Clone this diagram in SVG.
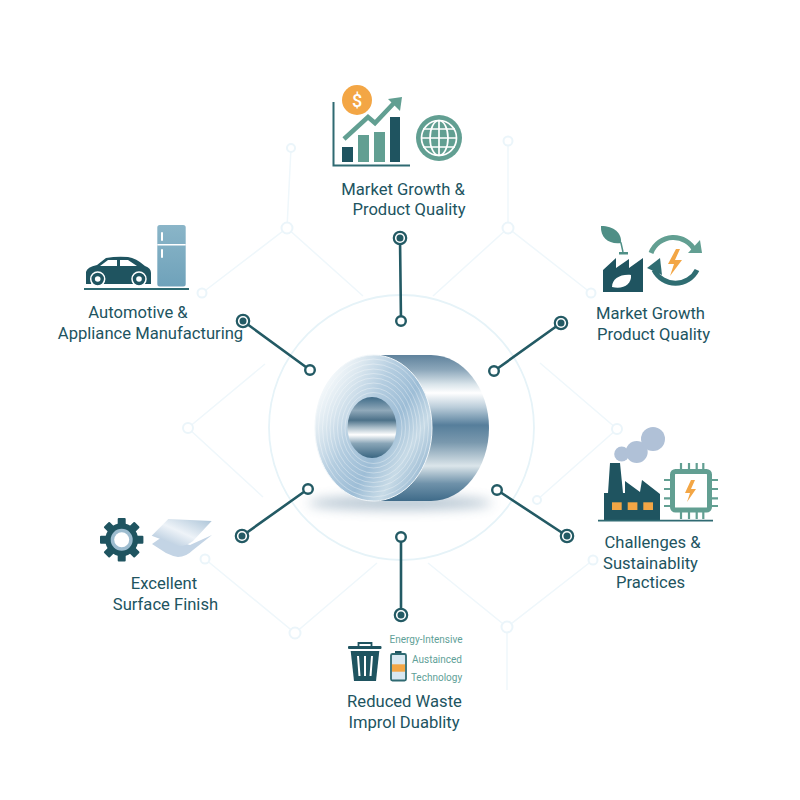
<svg xmlns="http://www.w3.org/2000/svg" width="800" height="800" viewBox="0 0 800 800">
<style>
text{font-family:Roboto,"Liberation Sans",sans-serif;fill:#21545f;font-size:16.6px;text-anchor:middle}
.sm{font-size:10px;fill:#5f9f98}
.faint{fill:none;stroke:#eff7fb;stroke-width:1.5}
.fn{fill:#fff;stroke:#ebf5fa;stroke-width:2}
.conn{stroke:#235a64;stroke-width:2.6;fill:none}
.in{fill:#fff;stroke:#235a64;stroke-width:2.4}
.outr{fill:#fff;stroke:#235a64;stroke-width:2.2}
.dot{fill:#235a64}
.dark{fill:#1f5460}
.teal{fill:#629f92}
.org{fill:#f3a645}
.wl{fill:none;stroke:#fff;stroke-width:1.7}
</style>
<defs>
<linearGradient id="side" x1="0" y1="0" x2="0" y2="1">
<stop offset="0" stop-color="#5f829c"/><stop offset=".1" stop-color="#8ba6ba"/><stop offset=".2" stop-color="#d9e4ea"/><stop offset=".26" stop-color="#fff"/><stop offset=".36" stop-color="#b9ccd9"/><stop offset=".48" stop-color="#567e9b"/><stop offset=".6" stop-color="#7a99ae"/><stop offset=".76" stop-color="#dbe5ea"/><stop offset=".88" stop-color="#6f92aa"/><stop offset="1" stop-color="#3f6b89"/>
</linearGradient>
<linearGradient id="face" x1=".02" y1=".28" x2=".85" y2=".9">
<stop offset="0" stop-color="#f5f9fb"/><stop offset=".16" stop-color="#dce8f0"/><stop offset=".38" stop-color="#b4cde0"/><stop offset=".62" stop-color="#9dbdd6"/><stop offset=".82" stop-color="#c8dbe7"/><stop offset="1" stop-color="#9dbcd4"/>
</linearGradient>
<linearGradient id="hole" x1="0" y1="0" x2="0" y2="1">
<stop offset="0" stop-color="#3f6b88"/><stop offset=".22" stop-color="#90a9ba"/><stop offset=".38" stop-color="#4c7189"/><stop offset=".5" stop-color="#a9bdc9"/><stop offset=".62" stop-color="#fff"/><stop offset=".76" stop-color="#8aa6b8"/><stop offset="1" stop-color="#3a6682"/>
</linearGradient>
<linearGradient id="sheet" x1="0" y1="1" x2="1" y2="0">
<stop offset="0" stop-color="#a3bdd5"/><stop offset=".5" stop-color="#eef3f8"/><stop offset="1" stop-color="#aac3d7"/>
</linearGradient>
<linearGradient id="fr" x1="0" y1="0" x2="0" y2="1">
<stop offset="0" stop-color="#8ab5c8"/><stop offset="1" stop-color="#6fa2ba"/>
</linearGradient>
<filter id="blur" x="-30%" y="-200%" width="160%" height="500%"><feGaussianBlur stdDeviation="6"/></filter>
</defs>
<rect width="800" height="800" fill="#fff"/>
<g id="background">
<circle cx="401.5" cy="427.5" r="132.5" fill="none" stroke="#e6f3f8" stroke-width="1.8"/>
<path class="faint" d="M291 148L287 228M202 293L287 228L363 296M508 141V228M433 296L508 228L591 293M540 363L617 429L537 500M265 364L188 428L263 497M205 559L295 633L377 563M428 563L507 627L593 560M507 627V690"/>
<circle class="fn" cx="291" cy="148" r="4"/><circle class="fn" cx="287" cy="228" r="5.5"/><circle class="fn" cx="202" cy="293" r="4.5"/><circle class="fn" cx="508" cy="141" r="4.5"/><circle class="fn" cx="508" cy="228" r="5.5"/><circle class="fn" cx="591" cy="293" r="4.5"/><circle class="fn" cx="188" cy="428" r="5"/><circle class="fn" cx="617" cy="429" r="5"/><circle class="fn" cx="205" cy="559" r="4.5"/><circle class="fn" cx="295" cy="633" r="5.5"/><circle class="fn" cx="593" cy="560" r="4.5"/><circle class="fn" cx="507" cy="627" r="5.5"/><circle class="fn" cx="537" cy="500" r="4"/>
</g>
<g id="coil">
<ellipse cx="400" cy="503" rx="92" ry="7" fill="#5f819c" opacity=".45" filter="url(#blur)"/>
<path d="M373 355H431C463 355 489 388 489 428C489 468 463 501 431 501H373Z" fill="url(#side)"/>
<ellipse cx="373.5" cy="428" rx="58.5" ry="73" fill="url(#face)" stroke="#f2f7fa" stroke-width="1"/>
<g fill="none" stroke="#fff" stroke-opacity=".42" stroke-width=".8">
<ellipse cx="373.5" cy="428" rx="55" ry="69"/><ellipse cx="373.5" cy="428" rx="51" ry="64"/><ellipse cx="373.5" cy="428" rx="47" ry="59"/><ellipse cx="373.5" cy="428" rx="43.500" ry="54.500"/><ellipse cx="373.5" cy="428" rx="40" ry="50"/><ellipse cx="373.5" cy="428" rx="36" ry="45"/><ellipse cx="373.5" cy="428" rx="32" ry="40"/><ellipse cx="373.5" cy="428" rx="28.500" ry="35.500"/>
</g>
<ellipse cx="372" cy="427.500" rx="24.500" ry="30.500" fill="url(#hole)"/>
</g>
<g id="connectors">
<path class="conn" d="M400 238L401 321M561 323L494 371M567 536L497 490M401 615V537M242 536L308 489M243 321L310 370"/>
<g>
<circle class="outr" cx="400" cy="238" r="6.200"/><circle class="dot" cx="400" cy="238" r="3.500"/>
<circle class="outr" cx="561" cy="323" r="6.200"/><circle class="dot" cx="561" cy="323" r="3.500"/>
<circle class="outr" cx="567" cy="536" r="6.200"/><circle class="dot" cx="567" cy="536" r="3.500"/>
<circle class="outr" cx="401" cy="615" r="6.200"/><circle class="dot" cx="401" cy="615" r="3.500"/>
<circle class="outr" cx="242" cy="536" r="6.200"/><circle class="dot" cx="242" cy="536" r="3.500"/>
<circle class="outr" cx="243" cy="321" r="6.200"/><circle class="dot" cx="243" cy="321" r="3.500"/>
<circle class="in" cx="401" cy="321" r="4.800"/><circle class="in" cx="494" cy="371" r="4.800"/><circle class="in" cx="497" cy="490" r="4.800"/><circle class="in" cx="401" cy="537" r="4.800"/><circle class="in" cx="308" cy="489" r="4.800"/><circle class="in" cx="310" cy="370" r="4.800"/>
</g>
</g>
<g id="node-market-growth">
<path d="M333.500 102V165.500H410" fill="none" stroke="#2f6a72" stroke-width="2"/>
<rect class="dark" x="342" y="147" width="11" height="15"/>
<rect class="teal" x="358" y="135" width="11" height="27"/>
<rect class="teal" x="374" y="132" width="11" height="30"/>
<rect class="dark" x="390" y="117" width="10" height="45"/>
<path d="M344 139L368 117L375 123L394 103" fill="none" stroke="#629f92" stroke-width="4.600"/>
<path d="M388 99L402 97L400 111Z" class="teal"/>
<circle class="org" cx="357" cy="100" r="15"/>
<text x="357" y="106.500" style="fill:#fff;font-size:18px;font-weight:500">$</text>
<circle class="teal" cx="439" cy="138" r="23"/>
<g class="wl"><circle cx="439" cy="138" r="17.500"/><ellipse cx="439" cy="138" rx="9" ry="17.500"/><path d="M439 120V156M421 138H457M423 129H455M423 147H455"/></g>
<text x="403" y="195">Market Growth &amp;</text>
<text x="409" y="215">Product Quality</text>
</g>
<g id="node-market-growth-right">
<path class="dark" d="M603 292V270L616 258V268L629 259V268L643 258V292Z"/>
<path d="M612 287C612 279 620 274 631 275C632 284 623 290 612 287Z" fill="#fff"/>
<path d="M601 226C614 226 622 233 621 243C610 245 600 238 601 226Z" fill="#4f8f86"/>
<path d="M609 233L621 243L623 252" fill="none" stroke="#4f8f86" stroke-width="1.500"/>
<rect x="619" y="252" width="9" height="2.500" fill="#4f8f86"/>
<path d="M651 253A24 24 0 0 1 695 251" fill="none" stroke="#629f92" stroke-width="5"/>
<path d="M688 253L702 253L700 240Z" class="teal"/>
<path d="M697 270A24 24 0 0 1 654 270" fill="none" stroke="#2f6d72" stroke-width="5"/>
<path d="M647 268L660 258L662 275Z" fill="#2f6d72"/>
<path class="org" d="M676 249L668 264H674L670 276L682 260H675L680 249Z"/>
<text x="650.500" y="319">Market Growth</text>
<text x="653.500" y="340">Product Quality</text>
</g>
<g id="node-challenges">
<circle cx="621.700" cy="454" r="7.500" fill="#b0c1d7"/><circle cx="636.700" cy="452" r="11" fill="#b0c1d7"/><circle cx="653" cy="439" r="12" fill="#b0c1d7"/>
<path class="dark" d="M604 520V493H608L610 463H620L623 493H625V481L640 492L642 480L660 494V520Z"/>
<rect class="org" x="612" y="502.300" width="9.700" height="7.700"/><rect class="org" x="627.700" y="502.300" width="9.700" height="7.700"/><rect class="org" x="643.300" y="502.300" width="9.700" height="7.700"/>
<path d="M598 520.700H713" stroke="#2f6a72" stroke-width="1.800"/>
<path d="M681 463V470M689 463V470M696.700 463V470M703.300 463V470M681 512V519M689 512V519M696.700 512V519M703.300 512V519M664 480H671M664 489H671M664 498.300H671M664 506H671M711 480H718M711 489H718M711 498.300H718M711 506H718" stroke="#629f92" stroke-width="2.200"/>
<rect x="672.500" y="471.500" width="37" height="38.500" rx="3" fill="#fff" stroke="#629f92" stroke-width="5"/>
<path class="org" d="M691 480L685 493H690L687 502L696 489H691L695 480Z"/>
<text x="652.500" y="548">Challenges &amp;</text>
<text x="650.500" y="569">Sustainablity</text>
<text x="650.500" y="588">Practices</text>
</g>
<g id="node-reduced-waste">
<path d="M358.500 646V643H371.500V646" fill="none" stroke="#1f5460" stroke-width="1.800"/>
<rect class="dark" x="348" y="646" width="33.500" height="3" rx="1"/>
<path class="dark" d="M350.700 651H379.300L376 681H354Z"/>
<path d="M358 656L359.500 676M365 656V676M372 656L370.500 676" stroke="#fff" stroke-width="2"/>
<rect x="395" y="651" width="6.500" height="3" fill="#1f5460"/>
<rect x="391" y="654" width="15" height="26.500" rx="1.500" fill="#d9e8f1" stroke="#2f6a72" stroke-width="1.800"/>
<rect class="org" x="392" y="664.300" width="13" height="7.400"/>
<text class="sm" x="426" y="643">Energy-Intensive</text>
<text class="sm" x="437" y="663">Austainced</text>
<text class="sm" x="436.500" y="681">Technology</text>
<text x="404.500" y="707">Reduced Waste</text>
<text x="404" y="728">Improl Duablity</text>
</g>
<g id="node-surface-finish">
<circle class="dark" cx="121.700" cy="539.700" r="16.500"/>
<g class="dark"><rect x="117.700" y="518" width="8" height="43.400" rx="1"/><rect x="117.700" y="518" width="8" height="43.400" rx="1" transform="rotate(45 121.700 539.700)"/><rect x="117.700" y="518" width="8" height="43.400" rx="1" transform="rotate(90 121.700 539.700)"/><rect x="117.700" y="518" width="8" height="43.400" rx="1" transform="rotate(135 121.700 539.700)"/></g>
<circle cx="121.700" cy="539.700" r="11" fill="#9dbccf"/><circle cx="121.700" cy="539.700" r="7.500" fill="#fff"/>
<path d="M152 544L162 537L190 545L212 535L193 550Q186 557 178 557Q172 556 166 553Z" fill="#c3d4e5"/>
<path d="M151.700 535.700L168.300 519L211.700 521L193 541Q187 546 179 546Z" fill="url(#sheet)"/>
<text x="164" y="589">Excellent</text>
<text x="165.500" y="610">Surface Finish</text>
</g>
<g id="node-automotive">
<path class="dark" d="M86 284V272Q87 267 97 265L106 258Q117 256 128 257Q136 258 145 266Q151 268 151 273V284H144A7 7 0 0 0 133 284H104A7 7 0 0 0 91 284Z"/>
<path d="M100 266L108 260H117V266ZM120 260H128L137 266H120Z" fill="#fff"/>
<circle cx="97.700" cy="279" r="7" class="dark" stroke="#fff" stroke-width="1.500"/><circle cx="97.700" cy="279" r="2.800" fill="#fff"/>
<circle cx="139" cy="279" r="7" class="dark" stroke="#fff" stroke-width="1.500"/><circle cx="139" cy="279" r="2.800" fill="#fff"/>
<rect x="157.300" y="225" width="28.400" height="61.500" rx="2.500" fill="url(#fr)"/>
<rect x="157.300" y="244" width="28.400" height="1.500" fill="#fff"/>
<rect x="161" y="232" width="2" height="9" rx="1" fill="#fff"/><rect x="161" y="249" width="2" height="9" rx="1" fill="#fff"/>
<path d="M84 289H189" stroke="#2f6a72" stroke-width="2"/>
<text x="138" y="318">Automotive &amp;</text>
<text x="150.500" y="339">Appliance Manufacturing</text>
</g>
</svg>
